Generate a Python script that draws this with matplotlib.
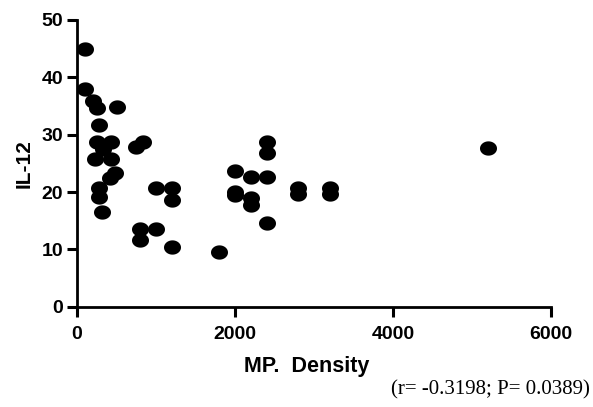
import numpy as np
import matplotlib.pyplot as plt
from matplotlib.path import Path

# MP density vs IL-12
mp_density = [100, 100, 200, 250, 500, 280, 250, 430, 330, 230, 430, 480, 420,
              280, 280, 310, 750, 840, 1000, 1200, 1200, 800, 800, 1000, 1200,
              1800, 2000, 2000, 2000, 2200, 2200, 2200, 2400, 2400, 2400, 2400,
              2800, 2800, 3200, 3200, 5200]
il12 = [45, 38, 35.8, 34.6, 34.8, 31.7, 28.8, 28.8, 27.5, 25.7, 25.7, 23.3, 22.4,
        20.7, 19.2, 16.6, 27.9, 28.8, 20.7, 20.7, 18.6, 13.6, 11.6, 13.6, 10.5,
        9.5, 23.6, 20.0, 19.5, 22.6, 19.0, 17.7, 28.8, 26.8, 22.6, 14.6,
        20.8, 19.6, 20.8, 19.6, 27.7]

x_ticks = [0, 2000, 4000, 6000]
y_ticks = [0, 10, 20, 30, 40, 50]
stats_text = "(r= -0.3198; P= 0.0389)"

# slightly flattened dot, like the original
theta = np.linspace(0, 2 * np.pi, 60)
ellipse = Path(np.column_stack([np.cos(theta), 0.84 * np.sin(theta)]), closed=True)

plt.rcParams['font.family'] = ['Liberation Sans', 'DejaVu Sans']

fig = plt.figure(figsize=(5.93, 4.07), dpi=100)
ax = fig.add_axes([0.130, 0.246, 0.799, 0.705])

ax.scatter(mp_density, il12, marker=ellipse, s=150, color="black",
           linewidths=0, clip_on=False, zorder=3)

ax.set_xlim(0, 6000)
ax.set_ylim(0, 50)
ax.set_xticks(x_ticks)
ax.set_yticks(y_ticks)

for side in ("top", "right"):
    ax.spines[side].set_visible(False)
for side in ("left", "bottom"):
    ax.spines[side].set_linewidth(2)

ax.tick_params(direction="out", length=7, width=2.2, labelsize=14)
ax.tick_params(axis="x", pad=7)
ax.tick_params(axis="y", pad=3)
for lbl in ax.get_xticklabels() + ax.get_yticklabels():
    lbl.set_fontweight("bold")

ax.set_xlabel("MP.  Density", fontsize=15.5, fontweight="bold", labelpad=3)
ax.xaxis.set_label_coords(0.485, -0.17)
ax.set_ylabel("IL-12", fontsize=15, fontweight="bold", labelpad=6)

fig.text(0.995, 0.042, stats_text, ha="right", va="center", fontsize=15,
         family=["Liberation Serif", "DejaVu Serif"])

fig.savefig("out.png", dpi=100)
